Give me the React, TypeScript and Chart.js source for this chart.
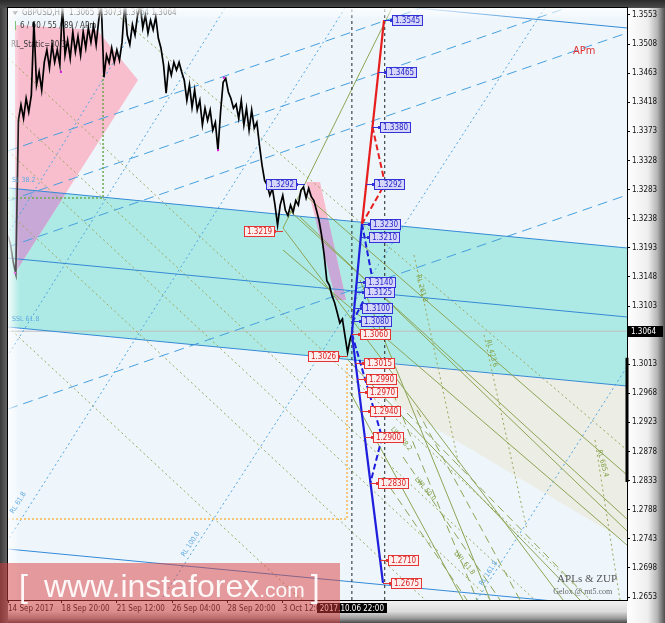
import React, { useEffect, useRef } from "react";
import { Chart, registerables } from "chart.js";

Chart.register(...registerables);

// ---------------- axes ----------------
const X_MIN = 0;
const X_MAX = 716.4;
const Y_MIN = 1.26484;
const Y_MAX = 1.35638;

const yTickValues = [1.2653, 1.2698, 1.2743, 1.2788, 1.2833, 1.2878, 1.2923, 1.2968, 1.3013, 1.3058, 1.3103, 1.3148, 1.3193, 1.3238, 1.3283, 1.3328, 1.3373, 1.3418, 1.3463, 1.3508, 1.3553];
const xTickBars = [0, 62, 126, 190, 254, 318];
const xTickLabels = ["14 Sep 2017", "18 Sep 20:00", "21 Sep 12:00", "26 Sep 04:00", "28 Sep 20:00", "3 Oct 12:00"];
const cursorBar = 398;
const cursorTime = "2017.10.06 22:00";
const markerBar = 436;
const currentPrice = 1.3064;

// ---------------- price (one value every 3 H1 bars) ----------------
const priceStep = 3;
const closes = [
  1.3212, 1.3197, 1.3171, 1.3153, 1.3390, 1.3414, 1.3393, 1.3424, 1.3403, 1.3429,
  1.3542, 1.3445, 1.3465, 1.3437, 1.3480, 1.3499, 1.3471, 1.3507, 1.3480, 1.3499,
  1.3476, 1.3570, 1.3491, 1.3514, 1.3486, 1.3527, 1.3496, 1.3520, 1.3491, 1.3527,
  1.3502, 1.3533, 1.3511, 1.3536, 1.3507, 1.3545, 1.3570, 1.3457, 1.3491, 1.3479,
  1.3502, 1.3480, 1.3499, 1.3483, 1.3511, 1.3570, 1.3522, 1.3507, 1.3538, 1.3522,
  1.3553, 1.3570, 1.3533, 1.3553, 1.3525, 1.3545, 1.3530, 1.3550, 1.3517, 1.3502,
  1.3476, 1.3432, 1.3476, 1.3460, 1.3480, 1.3468, 1.3480, 1.3465, 1.3452, 1.3421,
  1.3445, 1.3410, 1.3437, 1.3406, 1.3421, 1.3383, 1.3409, 1.3390, 1.3406, 1.3375,
  1.3387, 1.3344, 1.3403, 1.3449, 1.3455, 1.3434, 1.3424, 1.3409, 1.3415, 1.3393,
  1.3421, 1.3383, 1.3409, 1.3375, 1.3406, 1.3378, 1.3387, 1.3352, 1.3321, 1.3297,
  1.3290, 1.3274, 1.3285, 1.3259, 1.3228, 1.3259, 1.3274, 1.3251, 1.3243, 1.3259,
  1.3248, 1.3266, 1.3259, 1.3282, 1.3287, 1.3270, 1.3285, 1.3272, 1.3266, 1.3251,
  1.3235, 1.3212, 1.3181, 1.3142, 1.3135, 1.3119, 1.3108, 1.3093, 1.3077, 1.3083,
  1.3057, 1.3031, 1.3052, 1.3064,
];

const fractalBars = [8.1, 61.3, 243.1, 250.0];
const fractalPrices = [1.3154, 1.3465, 1.3344, 1.3456];
const rangeBarPrices = [1.3023, 1.2831];

// ---------------- drawings (bar, price pairs) ----------------
const spanBars = [0, 716.4];
const channelTop = [1.32855, 1.31927];
const channelMid = [1.31772, 1.30860];
const channelBottom = [1.30705, 1.29793];
const outerHigh = [1.36241, 1.35329];
const outerLow = [1.27272, 1.26360];

const risingDashed = [
  [1.33427, 1.36736],
  [1.32654, 1.35963],
  [1.31942, 1.35252],
  [1.29437, 1.32746],
];

// [bar1, price1, bar2, price2]
const steepDotted = [
  [390.0, 1.35638, -44.0, 1.26484],
  [621.3, 1.35638, 177.1, 1.26484],
  [251.2, 1.35638, -32.4, 1.29576],
  [766.2, 1.31123, 542.8, 1.26484],
  [160.9, 1.35638, -47.5, 1.31123],
];
const oliveDotted = [
  [0, 1.34865, 703.1, 1.26128],
  [0, 1.34061, 638.4, 1.26128],
  [0, 1.33427, 587.4, 1.26128],
  [0, 1.32484, 511.5, 1.26128],
  [0, 1.30705, 368.4, 1.26128],
  [116.9, 1.35638, 716.4, 1.28803],
];
const oliveSolid = [
  [318.3, 1.32236, 444.4, 1.35638],
  [343.8, 1.32746, 716.4, 1.28417],
  [326.4, 1.32499, 716.4, 1.27736],
  [338.0, 1.32406, 716.4, 1.27551],
  [318.3, 1.31896, 716.4, 1.27334],
  [392.4, 1.30210, 662.0, 1.26484],
  [407.4, 1.31432, 557.9, 1.26484],
  [395.8, 1.29700, 526.6, 1.26484],
  [318.3, 1.32236, 642.4, 1.26484],
];
const oliveDashed = [
  [445.6, 1.29685, 542.8, 1.26484],
  [473.4, 1.29422, 592.6, 1.26484],
  [434.0, 1.28386, 531.2, 1.26484],
  [461.8, 1.29376, 673.6, 1.26484],
  [457.2, 1.28695, 569.4, 1.26484],
];
const oliveRays = [
  [469.9, 1.31819, 523.1, 1.28494],
  [550.9, 1.30582, 600.7, 1.27566],
  [679.4, 1.28958, 708.3, 1.26484],
];

const orangeBoxBars = [0, 392.4, 392.4];
const orangeBoxPrices = [1.27736, 1.27736, 1.30164];
const greenBoxBars = [0, 110, 110];
const greenBoxPrices = [1.327, 1.327, 1.34602];

// projection zigzag
const upPathBars = [398, 409.7, 435.2];
const upPathPrices = [1.306, 1.323, 1.3545];
const downPathBars = [398, 434.0];
const downPathPrices = [1.306, 1.2675];
const redDashBars = [421.8, 436.3, 409.7];
const redDashPrices = [1.338, 1.3292, 1.323];
const blueDashUpBars = [409.7, 422.5, 399.4];
const blueDashUpPrices = [1.323, 1.314, 1.308];
const blueDashDownBars = [398, 432.9, 419.5];
const blueDashDownPrices = [1.306, 1.29, 1.283];

const upperTags = [1.3545, 1.3465, 1.338, 1.3292, 1.323, 1.321, 1.314, 1.3125, 1.31, 1.308];
const lowerTags = [1.306, 1.3015, 1.299, 1.297, 1.294, 1.29, 1.283, 1.271, 1.2675];
const swingTagBars = [343.8, 318.3, 392.4];
const swingTagPrices = [1.3292, 1.3219, 1.3026];
const swingTagKinds = ["blue", "red", "red"];

// zones
const beigeBars = [445.6, 716.4, 716.4, 445.6];
const beigePrices = [1.30149, 1.29793, 1.27381, 1.2953];
const pinkBigBars = [8.1, 103.0, 150.5, 8.1];
const pinkBigPrices = [1.35375, 1.35298, 1.34525, 1.3154];
const pinkSmallBars = [344.9, 361.1, 391.2, 379.6];
const pinkSmallPrices = [1.32948, 1.32948, 1.31123, 1.31123];

// notes: [text, bar, price, angleDeg, colorKey]
const notes: [string, number, number, number, string][] = [
  ["SL 38.2", 4.6, 1.32978, 0, "b"],
  ["SSL 61.8", 4.6, 1.30829, 0, "b"],
  ["RL 61.8", 4.6, 1.27829, -58, "b"],
  ["RL 100.0", 202.5, 1.27164, -57, "b"],
  ["RL 161.8", 547.5, 1.26716, -57, "b"],
  ["RL 261.8", 474.5, 1.31509, 75, "o"],
  ["RL 423.6", 555.6, 1.30504, 75, "o"],
  ["RL 685.4", 684.0, 1.28803, 75, "o"],
  ["LWL 38.2", 444.4, 1.29143, 50, "o"],
  ["LWL 50.0", 472.2, 1.2837, 50, "o"],
  ["LWL 61.8", 517.4, 1.27226, 50, "o"],
];

// ---------------- styles ----------------
const FONT = '"DejaVu Sans Condensed", "DejaVu Sans", sans-serif';
const TEAL = "rgb(174,234,229)";
const PINK = "rgb(248,190,206)";
const PURPLE = "rgb(200,168,214)";
const BEIGE = "rgb(236,237,228)";
const CH_BLUE = "rgb(52,138,214)";
const DASH_BLUE = "rgb(70,160,222)";
const DOT_BLUE = "rgb(80,165,225)";
const OLIVE = "rgb(140,165,85)";
const OLIVE_DOT = "rgb(160,165,90)";

function seg(bars: number[], prices: number[]) {
  return bars.map((b, i) => ({ x: b, y: prices[i] }));
}

function line(data: any[], color: string, width: number, dash: number[], order: number, extra: any = {}) {
  return {
    type: "line",
    data,
    borderColor: color,
    backgroundColor: color,
    borderWidth: width,
    borderDash: dash,
    pointRadius: 0,
    fill: false,
    tension: 0,
    order,
    ...extra,
  };
}

function pathBar(bars: number[], prices: number[], p: number) {
  for (let i = 0; i < bars.length - 1; i++) {
    const a = prices[i], b = prices[i + 1];
    if ((p - a) * (p - b) <= 0) {
      const t = b === a ? 0 : (p - a) / (b - a);
      return bars[i] + t * (bars[i + 1] - bars[i]);
    }
  }
  return bars[bars.length - 1];
}

function drawTag(ctx: CanvasRenderingContext2D, px: number, py: number, text: string, kind: string, side: number) {
  ctx.font = `8px ${FONT}`;
  const tw = ctx.measureText(text).width;
  const bw = Math.round(tw + 6);
  const bh = 10;
  const bx = side > 0 ? Math.round(px + 8) : Math.round(px - 8 - bw);
  const by = Math.round(py - bh / 2);
  const stroke = kind === "blue" ? "rgb(50,50,215)" : "rgb(228,52,52)";
  const fill = kind === "blue" ? "rgb(214,214,250)" : "rgb(253,238,238)";
  const txt = kind === "blue" ? "rgb(40,40,200)" : "rgb(215,30,30)";
  ctx.strokeStyle = stroke;
  ctx.lineWidth = 1;
  ctx.beginPath();
  const ex = side > 0 ? bx : bx + bw;
  ctx.moveTo(px, Math.round(py) + 0.5);
  ctx.lineTo(ex, Math.round(py) + 0.5);
  ctx.stroke();
  ctx.fillStyle = stroke;
  ctx.fillRect(ex - 2, Math.round(py) - 1, 3, 3);
  ctx.fillStyle = fill;
  ctx.fillRect(bx, by, bw, bh);
  ctx.strokeRect(bx + 0.5, by + 0.5, bw - 1, bh);
  ctx.fillStyle = txt;
  ctx.textBaseline = "middle";
  ctx.textAlign = "left";
  ctx.fillText(text, bx + 3, by + bh / 2 + 1);
}

const framePlugin = {
  id: "frame",
  beforeDraw(chart: any) {
    const { ctx, chartArea: a, width: W, height: H } = chart;
    ctx.save();
    ctx.fillStyle = "#d8d8d8";
    ctx.fillRect(0, 0, W, H);
    let g = ctx.createLinearGradient(a.right, 0, W, 0);
    g.addColorStop(0, "#ffffff");
    g.addColorStop(0.55, "#eeeeee");
    g.addColorStop(0.8, "#b4b4b4");
    g.addColorStop(1, "#4e4e4e");
    ctx.fillStyle = g;
    ctx.fillRect(a.right, 0, W - a.right, H);
    g = ctx.createLinearGradient(0, a.bottom, 0, H);
    g.addColorStop(0, "#f2f2f2");
    g.addColorStop(0.5, "#dcdcdc");
    g.addColorStop(0.8, "#9a9a9a");
    g.addColorStop(1, "#4a4a4a");
    ctx.fillStyle = g;
    ctx.fillRect(0, a.bottom, a.right, H - a.bottom);
    g = ctx.createLinearGradient(0, 0, 0, a.top);
    g.addColorStop(0, "#2a2a2a");
    g.addColorStop(1, "#4a4a4a");
    ctx.fillStyle = g;
    ctx.fillRect(0, 0, W, a.top);
    g = ctx.createLinearGradient(0, 0, a.left, 0);
    g.addColorStop(0, "#3a3a3a");
    g.addColorStop(1, "#6a6a6a");
    ctx.fillStyle = g;
    ctx.fillRect(0, a.top, a.left, H - a.top);
    ctx.fillStyle = "rgb(238,246,252)";
    ctx.fillRect(a.left, a.top, a.right - a.left, a.bottom - a.top);
    ctx.restore();
  },
  beforeDatasetsDraw(chart: any) {
    const { ctx, chartArea: a, scales } = chart;
    const xs = scales.x, ys = scales.y;
    const P = (bars: number[], prices: number[]) => bars.map((b, i) => [xs.getPixelForValue(b), ys.getPixelForValue(prices[i])]);
    const poly = (pts: number[][]) => {
      ctx.beginPath();
      pts.forEach(([x, y], i) => (i ? ctx.lineTo(x, y) : ctx.moveTo(x, y)));
      ctx.closePath();
    };
    ctx.save();
    ctx.beginPath();
    ctx.rect(a.left, a.top, a.right - a.left, a.bottom - a.top);
    ctx.clip();
    const teal = P([...spanBars, ...spanBars.slice().reverse()], [...channelTop, ...channelBottom.slice().reverse()]);
    poly(teal);
    ctx.fillStyle = TEAL;
    ctx.fill();
    poly(P(beigeBars, beigePrices));
    ctx.fillStyle = BEIGE;
    ctx.fill();
    for (const [bb, pp] of [[pinkBigBars, pinkBigPrices], [pinkSmallBars, pinkSmallPrices]]) {
      const pts = P(bb, pp);
      poly(pts);
      ctx.fillStyle = PINK;
      ctx.fill();
      ctx.save();
      poly(teal);
      ctx.clip();
      poly(pts);
      ctx.fillStyle = PURPLE;
      ctx.fill();
      ctx.restore();
    }
    // header
    ctx.fillStyle = "#3a3a3a";
    ctx.font = `8px ${FONT}`;
    ctx.textBaseline = "middle";
    ctx.textAlign = "left";
    ctx.beginPath();
    ctx.moveTo(a.left + 4, a.top + 3);
    ctx.lineTo(a.left + 10, a.top + 3);
    ctx.lineTo(a.left + 7, a.top + 7);
    ctx.closePath();
    ctx.fill();
    ctx.fillText("GBPUSD,H1  1.3065 1.3073 1.3064 1.3064", a.left + 14, a.top + 5);
    ctx.fillStyle = "rgb(60,170,60)";
    ctx.fillRect(a.left + 7, a.top + 13, 1, 9);
    ctx.fillStyle = "#3a3a3a";
    ctx.fillText("6 / 60 / 55 / 89 / APm", a.left + 12, a.top + 18);
    ctx.fillText("RL_Static=30.3", a.left + 3, a.top + 37);
    ctx.restore();
  },
  afterDatasetsDraw(chart: any) {
    const { ctx, chartArea: a, scales } = chart;
    const xs = scales.x, ys = scales.y;
    ctx.save();
    ctx.beginPath();
    ctx.rect(a.left, a.top, a.right - a.left, a.bottom - a.top);
    ctx.clip();
    // inner glow
    let g = ctx.createLinearGradient(a.left, 0, a.left + 12, 0);
    g.addColorStop(0, "rgba(255,255,255,0.85)");
    g.addColorStop(1, "rgba(255,255,255,0)");
    ctx.fillStyle = g;
    ctx.fillRect(a.left, a.top, 12, a.bottom - a.top);
    g = ctx.createLinearGradient(0, a.top, 0, a.top + 12);
    g.addColorStop(0, "rgba(255,255,255,0.85)");
    g.addColorStop(1, "rgba(255,255,255,0)");
    ctx.fillStyle = g;
    ctx.fillRect(a.left, a.top, a.right - a.left, 12);

    // notes
    for (const [text, bar, price, ang, ck] of notes) {
      ctx.save();
      ctx.translate(xs.getPixelForValue(bar), ys.getPixelForValue(price));
      ctx.rotate((ang * Math.PI) / 180);
      ctx.font = `7px ${FONT}`;
      ctx.fillStyle = ck === "b" ? "rgb(95,170,225)" : "rgb(130,160,70)";
      ctx.textBaseline = "middle";
      ctx.textAlign = "left";
      ctx.fillText(text, 0, 0);
      ctx.restore();
    }
    ctx.font = `11px ${FONT}`;
    ctx.fillStyle = "rgb(225,50,50)";
    ctx.textBaseline = "alphabetic";
    ctx.fillText("APm", xs.getPixelForValue(654), ys.getPixelForValue(1.3493));
    ctx.font = '11px "Liberation Serif", serif';
    ctx.fillStyle = "#555";
    ctx.fillText("APLs & ZUP", xs.getPixelForValue(635.5), ys.getPixelForValue(1.2676));
    ctx.font = '8px "Liberation Serif", serif';
    ctx.fillStyle = "#666";
    ctx.fillText("Gelox @ mt5.com", xs.getPixelForValue(631), ys.getPixelForValue(1.2657));

    // tags
    for (const p of upperTags) {
      const b = pathBar(upPathBars, upPathPrices, p);
      drawTag(ctx, xs.getPixelForValue(b), ys.getPixelForValue(p), p.toFixed(4), "blue", 1);
    }
    for (const p of lowerTags) {
      const b = pathBar(downPathBars, downPathPrices, p);
      drawTag(ctx, xs.getPixelForValue(b), ys.getPixelForValue(p), p.toFixed(4), "red", 1);
    }
    swingTagBars.forEach((b, i) => {
      drawTag(ctx, xs.getPixelForValue(b), ys.getPixelForValue(swingTagPrices[i]), swingTagPrices[i].toFixed(4), swingTagKinds[i], -1);
    });
    ctx.restore();
    ctx.save();
    ctx.strokeStyle = "#000";
    ctx.lineWidth = 1;
    ctx.strokeRect(a.left - 0.5, a.top - 0.5, a.right - a.left + 1, a.bottom - a.top + 1);
    ctx.restore();
  },
  afterDraw(chart: any) {
    const { ctx, chartArea: a, scales } = chart;
    const xs = scales.x, ys = scales.y;
    ctx.save();
    // time cursor label
    ctx.font = `8px ${FONT}`;
    const cx = xs.getPixelForValue(cursorBar);
    const tw = ctx.measureText(cursorTime).width + 6;
    ctx.fillStyle = "#000";
    ctx.fillRect(Math.round(cx - tw / 2), a.bottom + 3, Math.round(tw), 10);
    ctx.fillStyle = "#fff";
    ctx.textAlign = "center";
    ctx.textBaseline = "middle";
    ctx.fillText(cursorTime, cx, a.bottom + 8.5);
    // banner
    ctx.fillStyle = "rgba(218,62,62,0.5)";
    ctx.fillRect(0, 563, 340, 60);
    ctx.fillStyle = "rgba(255,255,255,0.92)";
    ctx.textAlign = "left";
    ctx.textBaseline = "alphabetic";
    ctx.font = '300 32px "Liberation Sans", Arial, sans-serif';
    ctx.fillText("[", 19, 597);
    ctx.fillText("www.instaforex", 44, 597);
    const w1 = ctx.measureText("www.instaforex").width;
    ctx.font = '21px "Liberation Sans", Arial, sans-serif';
    ctx.fillText(".com", 44 + w1, 597);
    const w2 = ctx.measureText(".com").width;
    ctx.font = '300 32px "Liberation Sans", Arial, sans-serif';
    ctx.fillText("]", 44 + w1 + w2 + 6, 597);
    // current price box
    const py = ys.getPixelForValue(currentPrice);
    ctx.fillStyle = "#000";
    ctx.fillRect(a.right + 1, Math.round(py) - 5, 35, 11);
    ctx.fillStyle = "#fff";
    ctx.font = `8px ${FONT}`;
    ctx.textBaseline = "middle";
    ctx.fillText(currentPrice.toFixed(4), a.right + 4, Math.round(py) + 1);
    ctx.restore();
  },
};

export default function App() {
  const ref = useRef<HTMLCanvasElement | null>(null);
  useEffect(() => {
    if (!ref.current) return;
    const datasets: any[] = [];
    datasets.push(line(seg(spanBars, [currentPrice, currentPrice]), "rgb(190,190,190)", 1, [], 30));
    oliveDotted.forEach((s) => datasets.push(line(seg([s[0], s[2]], [s[1], s[3]]), OLIVE_DOT, 1, [2, 3], 28)));
    steepDotted.forEach((s) => datasets.push(line(seg([s[0], s[2]], [s[1], s[3]]), DOT_BLUE, 1, [2, 3], 27)));
    risingDashed.forEach((p) => datasets.push(line(seg(spanBars, p), DASH_BLUE, 1, [10, 6], 26)));
    [channelTop, channelMid, channelBottom, outerHigh, outerLow].forEach((p) =>
      datasets.push(line(seg(spanBars, p), CH_BLUE, 1, [], 25))
    );
    datasets.push(line(seg(orangeBoxBars, orangeBoxPrices), "rgb(245,198,120)", 2, [2, 2], 24));
    datasets.push(line(seg(greenBoxBars, greenBoxPrices), "rgb(110,170,80)", 1.5, [2, 2], 24));
    oliveSolid.forEach((s) => datasets.push(line(seg([s[0], s[2]], [s[1], s[3]]), OLIVE, 1, [], 22)));
    oliveDashed.forEach((s) => datasets.push(line(seg([s[0], s[2]], [s[1], s[3]]), OLIVE, 1, [8, 5], 22)));
    oliveRays.forEach((s) => datasets.push(line(seg([s[0], s[2]], [s[1], s[3]]), OLIVE_DOT, 1, [2, 3], 22)));
    [cursorBar, markerBar].forEach((b) =>
      datasets.push(line(seg([b, b], [Y_MIN, Y_MAX]), "#222", 1, [3, 3], 20))
    );
    datasets.push(
      line(closes.map((c, i) => ({ x: i * priceStep, y: c })), "#000", 1.7, [], 5)
    );
    datasets.push(line(seg(redDashBars, redDashPrices), "rgb(230,30,30)", 2, [6, 3], 3));
    datasets.push(line(seg(blueDashUpBars, blueDashUpPrices), "rgb(30,30,220)", 2, [6, 3], 3));
    datasets.push(line(seg(blueDashDownBars, blueDashDownPrices), "rgb(30,30,220)", 2, [6, 3], 3));
    datasets.push(line(seg(upPathBars.slice(0, 2), upPathPrices.slice(0, 2)), "rgb(30,30,220)", 2.2, [], 2));
    datasets.push(line(seg(upPathBars.slice(1), upPathPrices.slice(1)), "rgb(230,30,30)", 2.2, [], 2));
    datasets.push(line(seg(downPathBars, downPathPrices), "rgb(30,30,220)", 2.2, [], 2));
    datasets.push(
      line(seg(fractalBars, fractalPrices), "rgb(220,30,220)", 0, [], 1, {
        showLine: false,
        pointRadius: 1.5,
        pointStyle: "rect",
        pointBackgroundColor: "rgb(220,30,220)",
        pointBorderWidth: 0,
      })
    );
    datasets.push(line(seg([X_MAX, X_MAX], rangeBarPrices), "#000", 3, [], 1, { clip: false }));

    const chart = new Chart(ref.current, {
      type: "line",
      data: { datasets },
      options: {
        animation: false,
        responsive: false,
        maintainAspectRatio: false,
        events: [],
        layout: { padding: { left: 8, top: 8, right: 0, bottom: 0 }, autoPadding: false },
        plugins: { legend: { display: false }, tooltip: { enabled: false } },
        scales: {
          x: {
            type: "linear",
            min: X_MIN,
            max: X_MAX,
            position: "bottom",
            afterFit: (s: any) => {
              s.height = 23;
            },
            afterBuildTicks: (s: any) => {
              s.ticks = xTickBars.map((v) => ({ value: v }));
            },
            ticks: {
              callback: (_v: any, i: number) => xTickLabels[i],
              align: "start",
              autoSkip: false,
              maxRotation: 0,
              padding: 1,
              color: "#111",
              font: { family: FONT, size: 8 },
            },
            grid: { drawOnChartArea: false, tickLength: 3, color: "#000" },
            border: { color: "#000" },
          },
          y: {
            type: "linear",
            position: "right",
            min: Y_MIN,
            max: Y_MAX,
            afterFit: (s: any) => {
              s.width = 38;
            },
            afterBuildTicks: (s: any) => {
              s.ticks = yTickValues.map((v) => ({ value: v }));
            },
            ticks: {
              callback: (v: any) => Number(v).toFixed(4),
              autoSkip: false,
              padding: 2,
              color: "#111",
              font: { family: FONT, size: 8 },
            },
            grid: { drawOnChartArea: false, tickLength: 3, color: "#000" },
            border: { color: "#000" },
          },
        },
      } as any,
      plugins: [framePlugin],
    });
    return () => chart.destroy();
  }, []);
  return (
    <div style={{ position: "fixed", left: 0, top: 0, width: 665, height: 623 }}>
      <canvas ref={ref} width={665} height={623} style={{ width: 665, height: 623, display: "block" }} />
    </div>
  );
}
